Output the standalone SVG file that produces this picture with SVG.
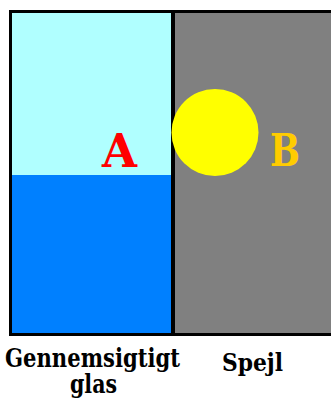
<svg xmlns="http://www.w3.org/2000/svg" width="331" height="400" viewBox="0 0 331 400">
<style>
text{font-family:'DejaVu Serif',serif;font-weight:bold;}
</style>
<rect x="0" y="0" width="331" height="400" fill="#ffffff"/>
<g id="glass">
<rect x="12" y="12" width="161" height="163" fill="#B0FFFF"/>
<rect x="12" y="175" width="161" height="158" fill="#0080FF"/>
</g>
<g id="mirror">
<rect x="173" y="12" width="158" height="321" fill="#808080"/>
</g>
<g id="frame" fill="#000000">
<rect x="9" y="10" width="322" height="3"/>
<rect x="9" y="10" width="3" height="326"/>
<rect x="9" y="333" width="322" height="3"/>
<rect x="171" y="10" width="4" height="326"/>
</g>
<g id="sun">
<circle cx="215" cy="132.5" r="43.5" fill="#FFFF00"/>
</g>
<text x="102" y="167" font-size="47" fill="#FF0000" textLength="35" lengthAdjust="spacingAndGlyphs">A</text>
<text x="270" y="166" font-size="45" fill="#FFCC00" textLength="30" lengthAdjust="spacingAndGlyphs">B</text>
<text font-size="25.5" fill="#000000"><tspan x="5" y="367" textLength="175" lengthAdjust="spacingAndGlyphs">Gennemsigtigt</tspan><tspan x="70" y="393" textLength="47" lengthAdjust="spacingAndGlyphs">glas</tspan></text>
<text x="222" y="371" font-size="24.5" fill="#000000" textLength="61" lengthAdjust="spacingAndGlyphs">Spejl</text>
</svg>
